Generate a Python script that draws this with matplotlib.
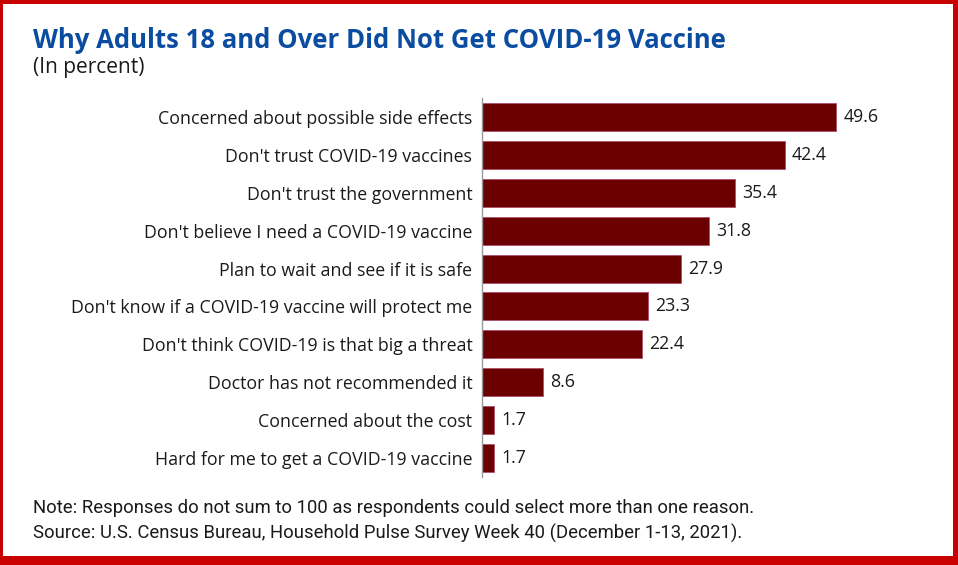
import matplotlib.pyplot as plt
from matplotlib.patches import Rectangle

reasons = [
    "Concerned about possible side effects",
    "Don't trust COVID-19 vaccines",
    "Don't trust the government",
    "Don't believe I need a COVID-19 vaccine",
    "Plan to wait and see if it is safe",
    "Don't know if a COVID-19 vaccine will protect me",
    "Don't think COVID-19 is that big a threat",
    "Doctor has not recommended it",
    "Concerned about the cost",
    "Hard for me to get a COVID-19 vaccine",
]
percent = [49.6, 42.4, 35.4, 31.8, 27.9, 23.3, 22.4, 8.6, 1.7, 1.7]

title = "Why Adults 18 and Over Did Not Get COVID-19 Vaccine"
subtitle = "(In percent)"
note = "Note: Responses do not sum to 100 as respondents could select more than one reason."
source = "Source: U.S. Census Bureau, Household Pulse Survey Week 40 (December 1-13, 2021)."

W, H = 958, 565
fig = plt.figure(figsize=(W / 100, H / 100), dpi=100)
plt.rcParams['font.family'] = ['Open Sans', 'DejaVu Sans']

# axes placed in pixel terms
left, right, top, bottom = 482, 900, 98, 477
ax = fig.add_axes([left / W, 1 - bottom / H, (right - left) / W, (bottom - top) / H])

y = list(range(len(reasons)))
ax.barh(y, percent, height=0.74, color='#6a0000', edgecolor='#b0506a', linewidth=0.6)
ax.set_ylim(len(reasons) - 0.5, -0.5)
ax.set_xlim(0, (right - left) / 7.137)

for yi, v in zip(y, percent):
    ax.text(v + 1.0, yi, f"{v:.1f}", va='center', ha='left', fontsize=12.8, color='#1a1a1a')

ax.set_yticks(y)
ax.set_yticklabels(reasons, fontsize=12.8, color='#1a1a1a')
ax.tick_params(axis='y', length=0, pad=7)
ax.set_xticks([])
for s in ['top', 'right', 'bottom']:
    ax.spines[s].set_visible(False)
ax.spines['left'].set_color('#9a9a9a')
ax.spines['left'].set_linewidth(1.0)

fig.text(33 / W, 1 - 40 / H, title, fontsize=18.5, fontweight='bold', color='#0a4c9f',
         va='center', ha='left')
fig.text(33 / W, 1 - 67 / H, subtitle, fontsize=15, color='#1a1a1a', va='center', ha='left')

narrow = ['Liberation Sans Narrow', 'Roboto', 'DejaVu Sans']
fig.text(33 / W, 1 - 508 / H, note, fontsize=13.3, color='#1a1a1a', va='center', ha='left',
         family=narrow)
fig.text(33 / W, 1 - 533 / H, source, fontsize=13.3, color='#1a1a1a', va='center', ha='left',
         family=narrow)

# red frame
red = '#c80000'
for x0, y0, w, h in [(0, 0, 3, H), (W - 5, 0, 5, H), (0, H - 4, W, 4), (0, 0, W, 9)]:
    fig.patches.append(Rectangle((x0 / W, y0 / H), w / W, h / H, transform=fig.transFigure,
                                 facecolor=red, edgecolor='none', zorder=10))

fig.savefig('out.png', dpi=100)
